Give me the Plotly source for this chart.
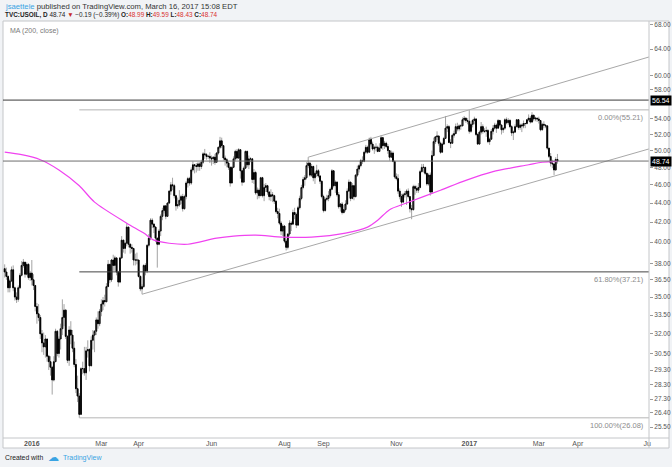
import math
import pandas as pd
import plotly.graph_objects as go

# ---------------- data ----------------
holidays = ["2015-12-25", "2016-01-01", "2016-03-25", "2016-12-26",
            "2017-01-02", "2017-04-14", "2017-05-29"]
dates = [d for d in pd.bdate_range("2015-12-09", "2017-03-16")
         if d.strftime("%Y-%m-%d") not in holidays]

first_open = 37.5

close = [
    37.2, 36.8, 35.8,
    36.4, 37.4, 35.8, 35.0, 34.8,
    35.8, 36.9, 37.8, 38.1,
    37.0, 37.9, 36.7, 37.1,
    # 2016
    36.5, 36.0, 34.2, 33.6, 33.3,
    32.0, 31.3, 31.0, 31.6, 30.3,
    29.9, 29.5, 28.6, 29.9, 32.2,
    30.5, 31.6, 32.4, 33.3, 33.9,
    31.8, 30.0, 32.3, 31.9, 30.9,
    29.7, 28.0, 27.5, 26.3, 29.4,
    29.4, 29.1, 30.7, 30.8, 29.6,
    31.5, 31.9, 32.2, 33.1, 32.8,
    33.8, 34.4, 34.7, 34.6, 35.9,
    37.9, 36.5, 38.3, 37.8, 38.5,
    37.2, 36.3, 38.5, 40.2, 39.4,
    39.9, 41.5, 39.8, 39.5,
    39.4, 38.3, 38.3, 38.3, 36.8,
    35.7, 35.9, 37.8, 37.3, 39.7,
    40.4, 42.2, 41.8, 41.5, 40.4,
    39.8, 41.1, 42.6, 43.2, 43.7,
    42.6, 44.0, 45.3, 46.0, 45.9,
    44.8, 43.7, 43.8, 44.3, 44.7,
    43.4, 44.7, 46.2, 46.7, 46.2,
    47.7, 48.3, 48.2, 48.1, 48.4,
    48.1, 48.6, 49.6, 49.5, 49.3,
    49.3, 49.1, 49.0, 49.2, 48.6,
    49.7, 50.4, 51.2, 50.6, 49.1,
    48.9, 48.5, 48.0, 46.2, 48.0,
    49.0, 49.9, 49.1, 50.1, 47.6,
    46.3, 47.9, 49.9, 48.3, 49.0,
    49.0, 46.6, 47.4, 45.1, 45.4,
    44.8, 46.8, 44.8, 45.7, 45.9,
    45.2, 44.7, 44.9, 44.8, 44.2,
    43.1, 42.9, 41.9, 41.1, 41.6,
    40.1, 39.5, 40.8, 41.9, 41.8,
    43.0, 42.8, 41.7, 43.5, 44.5,
    45.7, 46.6, 46.8, 48.2, 48.5,
    47.1, 48.1, 46.8, 47.3, 47.6,
    47.0, 46.4, 44.7, 43.2, 44.4,
    44.5, 44.8, 45.5, 47.6, 45.9,
    46.3, 44.9, 43.6, 43.9, 43.0,
    43.3, 43.9, 45.3, 46.3, 44.5,
    45.9, 44.7, 47.1, 47.8, 48.2,
    48.8, 48.7, 49.8, 50.4, 49.8,
    51.4, 50.8, 50.2, 50.4, 50.4,
    49.9, 50.3, 51.6, 50.6, 50.9,
    50.5, 50.0, 49.2, 49.7, 48.7,
    46.9, 46.7, 45.3, 44.7, 44.1,
    44.9, 45.0, 45.3, 44.7, 43.4,
    43.3, 45.8, 45.6, 45.4, 45.7,
    47.5, 48.0, 48.0, 47.3, 46.1,
    47.1, 45.2, 49.4, 51.1, 51.7,
    51.8, 50.9, 49.8, 50.8, 51.5,
    52.8, 53.0, 51.0, 50.9, 51.9,
    52.1, 53.0, 52.7, 53.1, 53.1,
    53.9, 54.1, 53.8, 53.7,
    # 2017
    52.4, 53.3, 53.8, 54.0,
    52.0, 50.8, 52.3, 53.0, 52.4,
    52.4, 52.5, 51.1, 51.4, 52.4,
    52.8, 53.2, 52.8, 53.8, 53.2,
    52.6, 52.8, 53.9, 53.5, 53.8,
    53.0, 52.2, 52.3, 53.0, 53.9,
    52.9, 53.2, 53.1, 53.4, 53.4,
    53.9, 54.1, 53.6, 54.5, 54.0,
    54.1, 54.0, 53.8, 52.6, 53.3,
    53.2, 53.1, 50.3, 49.3, 48.5,
    48.4, 47.7, 48.93, 48.74,
]

high = [
    37.9, 37.6, 36.9,
    36.6, 37.7, 37.8, 35.9, 35.4,
    36.0, 37.1, 38.2, 38.4,
    38.0, 38.1, 38.0, 37.3,
    38.3, 37.0, 36.0, 34.5, 34.4,
    33.5, 32.3, 32.1, 31.9, 31.5,
    30.4, 30.3, 29.6, 30.3, 32.4,
    32.3, 31.8, 32.8, 34.8, 34.4,
    34.0, 31.9, 32.6, 33.0, 32.3,
    31.4, 30.1, 28.9, 27.7, 29.5,
    29.9, 31.0, 31.0, 31.5, 30.9,
    31.8, 32.3, 32.3, 33.3, 33.8,
    34.0, 34.8, 35.0, 35.2, 36.2,
    38.3, 37.9, 38.4, 38.8, 38.7,
    38.5, 37.3, 38.6, 40.6, 40.2,
    40.0, 41.9, 41.3, 39.9,
    39.8, 39.4, 38.9, 39.0, 38.3,
    36.9, 36.1, 37.9, 38.0, 39.8,
    40.8, 42.4, 42.4, 41.9, 41.6,
    40.2, 41.3, 42.8, 43.5, 43.8,
    43.6, 44.1, 45.4, 46.3, 46.8,
    46.1, 44.9, 44.6, 45.4, 44.9,
    45.0, 44.9, 46.4, 46.9, 46.9,
    48.0, 48.7, 48.4, 48.5, 48.6,
    48.6, 48.9, 49.8, 50.2, 49.7,
    49.5, 49.8, 49.4, 49.3, 49.6,
    49.8, 50.5, 51.7, 51.6, 50.6,
    49.4, 49.1, 48.7, 48.1, 48.1,
    49.3, 50.1, 50.2, 50.3, 50.1,
    47.7, 48.1, 50.0, 50.0, 49.4,
    49.2, 49.1, 47.8, 47.6, 45.7,
    45.6, 46.9, 46.9, 46.1, 46.2,
    46.0, 45.3, 45.5, 45.2, 44.9,
    44.3, 43.5, 43.4, 42.1, 41.8,
    41.7, 40.3, 40.9, 42.2, 42.1,
    43.3, 43.5, 43.0, 43.7, 44.8,
    46.0, 46.9, 47.1, 48.6, 49.2,
    48.6, 48.4, 48.2, 47.5, 48.3,
    47.8, 47.1, 46.5, 44.9, 44.6,
    44.9, 45.3, 45.7, 47.8, 47.6,
    46.5, 46.4, 45.2, 44.0, 44.1,
    43.8, 44.3, 45.6, 46.6, 46.3,
    46.2, 46.0, 47.2, 48.2, 48.4,
    49.0, 49.3, 50.0, 50.7, 50.6,
    51.6, 51.7, 51.1, 50.6, 50.9,
    50.6, 50.9, 51.9, 51.7, 51.2,
    51.1, 50.8, 50.0, 50.0, 49.9,
    48.8, 47.3, 47.2, 45.6, 45.0,
    45.1, 45.3, 45.5, 45.6, 44.7,
    43.8, 46.0, 46.0, 45.9, 46.2,
    47.7, 48.4, 48.4, 48.0, 47.4,
    47.3, 47.4, 50.0, 51.6, 51.8,
    52.4, 51.9, 51.1, 51.0, 51.7,
    54.4, 53.3, 53.2, 51.4, 52.1,
    52.5, 53.4, 53.5, 53.3, 53.3,
    54.2, 54.4, 54.2, 54.1,
    55.21, 53.4, 54.0, 54.3,
    54.1, 52.2, 52.5, 53.6, 53.3,
    52.8, 53.0, 52.7, 51.6, 52.7,
    53.2, 53.5, 53.4, 54.0, 53.9,
    53.3, 52.9, 54.1, 54.2, 54.1,
    54.0, 53.2, 52.5, 53.3, 54.0,
    54.0, 53.4, 53.4, 53.8, 53.5,
    54.0, 54.6, 54.4, 54.9, 54.5,
    54.3, 54.2, 54.3, 53.8, 53.5,
    53.7, 53.3, 53.1, 50.3, 49.7,
    48.9, 48.4, 49.2, 49.59,
]

low = [
    36.7, 36.5, 35.4,
    35.4, 36.3, 35.5, 34.7, 34.5,
    34.6, 35.7, 36.8, 37.6,
    36.7, 36.9, 36.5, 36.4,
    36.0, 35.6, 33.8, 32.8, 33.0,
    31.6, 30.6, 30.4, 30.2, 29.9,
    29.3, 28.9, 27.6, 28.5, 29.9,
    30.3, 30.2, 30.8, 31.9, 32.6,
    31.6, 29.8, 29.6, 31.2, 30.6,
    29.5, 27.7, 27.1, 26.08, 26.4,
    29.0, 28.9, 28.6, 30.2, 29.2,
    29.6, 30.8, 30.6, 31.9, 32.4,
    32.6, 33.4, 33.9, 34.2, 34.6,
    35.9, 36.2, 36.3, 37.3, 37.3,
    36.9, 35.9, 36.2, 38.4, 39.0,
    38.9, 39.6, 39.5, 38.9,
    39.0, 37.8, 37.8, 37.9, 36.7,
    35.5, 35.24, 35.8, 36.9, 37.1,
    39.5, 40.2, 41.4, 40.9, 40.0,
    37.6, 39.7, 40.6, 42.2, 42.9,
    42.3, 42.6, 43.9, 44.9, 45.4,
    44.5, 43.2, 43.4, 43.6, 43.9,
    43.1, 43.3, 44.4, 45.7, 45.9,
    46.0, 47.5, 47.3, 47.4, 47.6,
    47.6, 47.8, 48.4, 49.0, 48.9,
    49.0, 48.5, 48.2, 48.4, 48.3,
    48.6, 49.5, 50.2, 50.3, 48.8,
    48.2, 48.0, 47.7, 45.8, 46.2,
    47.9, 48.7, 48.9, 49.0, 46.7,
    45.9, 46.4, 47.8, 48.0, 47.8,
    48.6, 46.2, 46.1, 44.9, 44.4,
    44.5, 44.8, 44.6, 44.2, 45.2,
    44.9, 44.3, 44.2, 44.1, 43.9,
    42.9, 42.4, 41.7, 40.7, 40.6,
    39.9, 39.2, 39.3, 40.6, 41.1,
    41.7, 42.3, 41.4, 41.6, 43.3,
    44.3, 45.5, 45.9, 46.6, 47.9,
    46.9, 46.9, 46.4, 46.1, 46.9,
    46.8, 46.1, 44.5, 43.0, 43.1,
    44.2, 44.2, 44.6, 45.4, 45.7,
    45.1, 44.7, 43.4, 43.1, 42.8,
    42.9, 43.1, 43.8, 45.2, 44.2,
    44.4, 44.3, 44.6, 46.9, 47.4,
    48.0, 48.4, 48.6, 49.6, 49.6,
    49.9, 50.5, 50.0, 49.6, 49.9,
    49.8, 49.9, 50.3, 50.1, 50.2,
    50.3, 49.6, 48.8, 49.1, 48.6,
    46.7, 46.5, 45.0, 44.4, 43.6,
    44.3, 44.6, 43.8, 44.5, 43.0,
    42.3, 43.2, 44.9, 45.1, 45.1,
    45.6, 47.4, 47.4, 47.1, 45.9,
    45.9, 44.8, 45.1, 49.3, 50.8,
    51.3, 50.6, 49.6, 49.8, 50.7,
    52.2, 52.3, 50.9, 50.3, 50.9,
    51.6, 52.3, 52.4, 52.4, 52.6,
    53.1, 53.7, 53.5, 53.3,
    52.1, 52.2, 52.9, 53.3,
    51.8, 50.7, 50.9, 52.0, 52.1,
    52.2, 51.7, 50.9, 50.7, 51.3,
    52.0, 52.6, 52.2, 52.7, 52.9,
    52.0, 52.2, 52.6, 53.3, 53.2,
    52.8, 51.8, 51.3, 52.2, 52.9,
    52.6, 52.6, 52.3, 52.8, 52.8,
    53.3, 53.7, 53.4, 53.5, 53.7,
    53.7, 53.6, 53.4, 52.4, 52.5,
    52.8, 52.8, 50.1, 49.1, 48.1,
    47.9, 47.1, 47.6, 48.43,
]

assert len(close) == len(dates) == len(high) == len(low), (len(close), len(dates), len(high), len(low))

# 200-day moving average
ma_dates = ["2015-12-09", "2015-12-23", "2016-01-11", "2016-01-26", "2016-02-11",
            "2016-02-24", "2016-03-22", "2016-04-06", "2016-04-14", "2016-04-27",
            "2016-05-12", "2016-06-06", "2016-06-20", "2016-07-07", "2016-07-29",
            "2016-08-23", "2016-09-20", "2016-10-07", "2016-10-17", "2016-10-26",
            "2016-11-09", "2016-12-07", "2016-12-29", "2017-01-23", "2017-02-21",
            "2017-03-03", "2017-03-16"]
ma_values = [49.8, 49.5, 48.9, 47.7, 45.9,
             44.1, 41.9, 40.9, 40.2, 39.9,
             39.8, 40.4, 40.6, 40.7, 40.5,
             40.5, 40.9, 41.5, 42.2, 43.3,
             44.0, 45.4, 46.5, 47.5, 48.3,
             48.6, 48.7]

# drawings
chan_low_dates = ["2016-04-05", "2017-06-02"]
chan_low_vals = [35.24, 50.2]
chan_up_dates = ["2016-08-19", "2017-06-02"]
chan_up_vals = [49.2, 62.8]
hline_levels = [56.54, 48.74]
fib_start = "2016-02-11"
fib_levels = [55.21, 37.21, 26.08]
fib_labels = ["0.00%(55.21)", "61.80%(37.21)", "100.00%(26.08)"]

y_ticks = [25.5, 26.4, 27.3, 28.3, 29.3, 30.5, 32, 33.5, 35, 36.5, 38, 40, 42,
           44, 46, 48, 50, 52, 54, 58, 60, 64, 68]
x_tick_dates = ["2016-01-04", "2016-03-01", "2016-04-01", "2016-06-01", "2016-08-01",
                "2016-09-01", "2016-11-01", "2017-01-03", "2017-03-01", "2017-04-03",
                "2017-06-01"]
x_tick_text = ["<b>2016</b>", "Mar", "Apr", "Jun", "Aug", "Sep", "Nov", "<b>2017</b>",
               "Mar", "Apr", "Ju"]

X_START, X_END = "2015-12-08", "2017-06-02"

# ---------------- figure ----------------
W, H = 672, 467
L, R, T, B = 3, 649, 21, 438
PW, PH = R - L, B - T


def px(x):
    return (x - L) / PW


def py(y):
    return (B - y) / PH


opens = [first_open] + close[:-1]
body_hi = [max(o, c) for o, c in zip(opens, close)]
body_lo = [min(o, c) for o, c in zip(opens, close)]

FONT = "Liberation Sans"
wick = "#a3a3a3"

fig = go.Figure()
fig.add_trace(go.Candlestick(
    x=dates, open=opens, high=high, low=low, close=close,
    increasing=dict(line=dict(color=wick, width=1), fillcolor=wick),
    decreasing=dict(line=dict(color=wick, width=1), fillcolor=wick),
    whiskerwidth=0, showlegend=False, hoverinfo="skip"))
fig.add_trace(go.Candlestick(
    x=dates, open=opens, high=body_hi, low=body_lo, close=close,
    increasing=dict(line=dict(color="#000000", width=1), fillcolor="#ffffff"),
    decreasing=dict(line=dict(color="#000000", width=1), fillcolor="#000000"),
    whiskerwidth=0, showlegend=False, hoverinfo="skip"))

fig.add_trace(go.Scatter(x=ma_dates, y=ma_values, mode="lines",
                         line=dict(color="#f043f0", width=1.2, shape="spline", smoothing=0.8),
                         showlegend=False, hoverinfo="skip"))

for dts, vals in [(chan_low_dates, chan_low_vals), (chan_up_dates, chan_up_vals)]:
    fig.add_trace(go.Scatter(x=dts, y=vals, mode="lines",
                             line=dict(color="#a8a8a8", width=1),
                             showlegend=False, hoverinfo="skip"))

hline_colors = ["#3a3a3a", "#6e6e6e"]
for lvl, col in zip(hline_levels, hline_colors):
    fig.add_trace(go.Scatter(x=[X_START, X_END], y=[lvl, lvl], mode="lines",
                             line=dict(color=col, width=1),
                             showlegend=False, hoverinfo="skip"))

fib_colors = ["#b5b5b5", "#444444", "#b5b5b5"]
for lvl, col, lab in zip(fib_levels, fib_colors, fib_labels):
    fig.add_trace(go.Scatter(x=[fib_start, X_END], y=[lvl, lvl], mode="lines",
                             line=dict(color=col, width=1),
                             showlegend=False, hoverinfo="skip"))

annotations = []
for lvl, lab in zip(fib_levels, fib_labels):
    annotations.append(dict(x=px(646), xref="paper", y=math.log10(lvl), yref="y",
                            text=lab, showarrow=False, xanchor="right", yanchor="top",
                            font=dict(family=FONT, size=7.5, color="#8c8c8c"), yshift=-1))

for lvl in hline_levels:
    annotations.append(dict(x=px(650), xref="paper", y=math.log10(lvl), yref="y",
                            text="%.2f" % lvl, showarrow=False, xanchor="left",
                            yanchor="middle", bgcolor="#000000", borderpad=1,
                            font=dict(family=FONT, size=7, color="#ffffff")))

# header / footer text
annotations += [
    dict(x=px(3), y=py(6), xref="paper", yref="paper", xanchor="left", yanchor="middle",
         showarrow=False, align="left",
         text="<span style='color:#3aa3e3'>jsaettele</span> published on TradingView.com, March 16, 2017 15:08 EDT",
         font=dict(family=FONT, size=7.7, color="#333333")),
    dict(x=px(3), y=py(15), xref="paper", yref="paper", xanchor="left", yanchor="middle",
         showarrow=False, align="left",
         text=("<b>TVC:USOIL, D</b> 48.74 <span style='color:#c62828'>▼</span> −0.19 (−0.39%) "
               "<b>O:</b><span style='color:#d9312f'>48.99</span> "
               "<b>H:</b><span style='color:#d9312f'>49.59</span> "
               "<b>L:</b><span style='color:#d9312f'>48.43</span> "
               "<b>C:</b><span style='color:#d9312f'>48.74</span>"),
         font=dict(family=FONT, size=6.4, color="#222222")),
    dict(x=px(8), y=py(31), xref="paper", yref="paper", xanchor="left", yanchor="middle",
         showarrow=False, text="MA (200, close)",
         font=dict(family=FONT, size=7, color="#7a7a7a")),
    dict(x=px(3), y=py(458), xref="paper", yref="paper", xanchor="left", yanchor="middle",
         showarrow=False, text="Created with",
         font=dict(family=FONT, size=6.8, color="#222222")),
    dict(x=px(46), y=py(457), xref="paper", yref="paper", xanchor="left", yanchor="middle",
         showarrow=False, text="☁",
         font=dict(family="DejaVu Sans", size=11, color="#3aa3e3")),
    dict(x=px(61), y=py(458), xref="paper", yref="paper", xanchor="left", yanchor="middle",
         showarrow=False, text="TradingView",
         font=dict(family=FONT, size=7, color="#3aa3e3")),
]

border = "#c4c6c9"
shapes = [
    dict(type="rect", xref="paper", yref="paper", x0=px(3), x1=px(669), y0=py(448), y1=py(21),
         fillcolor="#ffffff", line=dict(color=border, width=1), layer="below"),
    dict(type="line", xref="paper", yref="paper", x0=px(3), x1=px(669), y0=py(438), y1=py(438),
         line=dict(color=border, width=1)),
    dict(type="line", xref="paper", yref="paper", x0=px(649), x1=px(649), y0=py(448), y1=py(21),
         line=dict(color=border, width=1)),
]

fig.update_layout(
    width=W, height=H,
    margin=dict(l=L, r=W - R, t=T, b=H - B, pad=0),
    paper_bgcolor="#f1f3f6", plot_bgcolor="#ffffff",
    showlegend=False,
    annotations=annotations, shapes=shapes,
    font=dict(family=FONT, size=7, color="#555555"),
    xaxis=dict(type="date", range=[X_START, X_END],
               rangebreaks=[dict(bounds=["sat", "mon"]), dict(values=holidays)],
               rangeslider=dict(visible=False),
               tickmode="array", tickvals=x_tick_dates, ticktext=x_tick_text,
               showgrid=False, zeroline=False, showline=False, ticks="",
               tickfont=dict(family=FONT, size=7, color="#555555"), automargin=False),
    yaxis=dict(type="log", side="right",
               range=[math.log10(24.83), math.log10(68.55)],
               tickmode="array", tickvals=y_ticks, ticktext=["%.2f" % v for v in y_ticks],
               showgrid=False, zeroline=False, showline=False,
               ticks="outside", ticklen=3, tickcolor="#9a9a9a",
               tickfont=dict(family=FONT, size=6.5, color="#555555"), automargin=False),
)

fig.write_html("out.html", config={"displayModeBar": False, "staticPlot": True},
               post_script="document.body.style.margin='0';document.body.style.padding='0';document.body.style.overflow='hidden';")
